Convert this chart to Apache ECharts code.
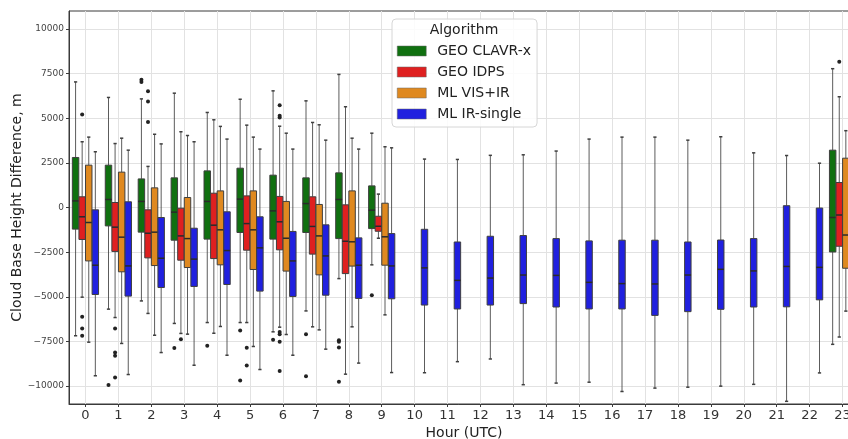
<!DOCTYPE html>
<html>
<head>
<meta charset="utf-8">
<script src="https://cdn.jsdelivr.net/npm/echarts@6/dist/echarts.min.js"></script>
<style>
    html, body { margin: 0; padding: 0; background: #fff; }
    #chart { width: 848px; height: 439px; }
</style>
</head>
<body>
<div id="chart"></div>
<script>
const hourLabels = ['0', '1', '2', '3', '4', '5', '6', '7', '8', '9', '10', '11',
    '12', '13', '14', '15', '16', '17', '18', '19', '20', '21', '22', '23'];
const yTicks = [-10000, -7500, -5000, -2500, 0, 2500, 5000, 7500, 10000];

const algorithms = ['GEO CLAVR-x', 'GEO IDPS', 'ML VIS+IR', 'ML IR-single'];
const colors = ['#107010', '#df2020', '#df8920', '#2020df'];

// [hour, lower whisker, q1, median, q3, upper whisker]
const clavrBoxes = [
    [0, -7180, -1210, 370, 2800, 7030],
    [1, -5690, -1030, 450, 2370, 6160],
    [2, -5230, -1380, 340, 1600, 6080],
    [3, -6490, -1830, -260, 1660, 6400],
    [4, -6440, -1770, 340, 2050, 5320],
    [5, -6440, -1400, 470, 2200, 6060],
    [6, -6960, -1770, -190, 1810, 6530],
    [7, -5790, -1400, 220, 1660, 5970],
    [8, -3980, -1740, 450, 1940, 7450],
    [9, -3210, -1180, -150, 1210, 4160],
    [23, -7660, -2490, -560, 3210, 7770]
];
const idpsBoxes = [
    [0, -5020, -1790, -520, 600, 3680],
    [1, -6160, -2460, -1100, 280, 3580],
    [2, -5930, -2820, -1440, -130, 2300],
    [3, -7050, -2950, -1590, -40, 4240],
    [4, -7040, -2860, -990, 800, 4910],
    [5, -6440, -2390, -900, 650, 4610],
    [6, -6700, -2370, -800, 620, 4550],
    [7, -6680, -2610, -1060, 600, 4760],
    [8, -9330, -3700, -1890, 150, 5640],
    [9, -1720, -1330, -1050, -490, 750],
    [23, -7250, -2170, -420, 1400, 6200]
];
const visBoxes = [
    [0, -7540, -2990, -840, 2370, 3940],
    [1, -7610, -3600, -1660, 1980, 3880],
    [2, -7150, -3250, -1380, 1100, 4100],
    [3, -7090, -3360, -1740, 560, 4030],
    [4, -6660, -3210, -1250, 930, 4540],
    [5, -7780, -3470, -1250, 930, 3940],
    [6, -7110, -3560, -1720, 340, 4160],
    [7, -6850, -3770, -1590, 170, 4630],
    [8, -6680, -3280, -1920, 930, 3880],
    [9, -6010, -3230, -1640, 240, 3400],
    [23, -5800, -3400, -1540, 2760, 4300]
];
const irBoxes = [
    [0, -9420, -4870, -3230, -130, 3120],
    [1, -9350, -4960, -3270, 320, 3210],
    [2, -8120, -4480, -2840, -560, 3560],
    [3, -8830, -4420, -2890, -1160, 3680],
    [4, -8270, -4310, -2410, -240, 3830],
    [5, -9070, -4680, -2260, -520, 3270],
    [6, -8270, -4980, -2990, -1340, 3270],
    [7, -7930, -4910, -2710, -970, 3770],
    [8, -8710, -5090, -3230, -1700, 3270],
    [9, -9240, -5110, -3270, -1460, 3340],
    [10, -9250, -5460, -3380, -1220, 2710],
    [11, -8630, -5680, -4080, -1930, 2690],
    [12, -8480, -5460, -3950, -1610, 2920],
    [13, -9920, -5380, -3780, -1570, 2950],
    [14, -9830, -5570, -3800, -1740, 3160],
    [15, -9780, -5680, -4190, -1870, 3830],
    [16, -10300, -5680, -4260, -1830, 3940],
    [17, -10110, -6040, -4280, -1830, 3940],
    [18, -10060, -5830, -3780, -1930, 3770],
    [19, -10000, -5700, -3460, -1820, 3960],
    [20, -9900, -5570, -3550, -1740, 3060],
    [21, -10850, -5560, -3300, 100, 2910],
    [22, -9260, -5170, -3350, -30, 2480]
];

// [hour, value]
const clavrOutliers = [
    [1, -9930], [2, 7150], [2, 7030], [3, -7860], [4, -7740], [5, -6880], [5, -9680],
    [6, -7400], [7, -7090], [7, -9440], [8, -7430], [8, -7520], [8, -7840], [8, -9760],
    [9, -4910]
];
const idpsOutliers = [
    [0, 5210], [0, -6120], [0, -6770], [0, -7180], [1, -6770], [1, -8120], [1, -8300],
    [1, -9520], [2, 6510], [2, 5930], [2, 4780], [3, -7370], [5, -7850], [5, -8840],
    [6, 5730], [6, 5130], [6, 5040], [6, -6970], [6, -7100], [6, -7510], [6, -9150],
    [23, 8160]
];

const boxSets = [clavrBoxes, idpsBoxes, visBoxes, irBoxes];
const outlierSets = [clavrOutliers, idpsOutliers, [], []];

const edgeColor = '#3f3f3f';

function slotCenter(api, hour, slot) {
    const band = api.size([1, 0])[0];
    const slotW = band * 0.8 / 4;
    return [api.coord([hour, 0])[0] + (slot - 1.5) * slotW, slotW];
}

function boxRenderer(slot) {
    return function (params, api) {
        const hour = api.value(0);
        const [cx, slotW] = slotCenter(api, hour, slot);
        const halfW = slotW * 0.98 / 2;
        const capHalf = halfW * 0.5;
        const y = i => api.coord([hour, api.value(i)])[1];
        const yMin = y(1), yQ1 = y(2), yMed = y(3), yQ3 = y(4), yMax = y(5);
        const wStyle = { stroke: edgeColor, lineWidth: 1, opacity: 0.85 };
        return {
            type: 'group',
            children: [
                { type: 'line', shape: { x1: cx, y1: yQ3, x2: cx, y2: yMax }, style: wStyle },
                { type: 'line', shape: { x1: cx, y1: yQ1, x2: cx, y2: yMin }, style: wStyle },
                { type: 'line', shape: { x1: cx - capHalf, y1: yMax, x2: cx + capHalf, y2: yMax }, style: { stroke: edgeColor, lineWidth: 1.5 } },
                { type: 'line', shape: { x1: cx - capHalf, y1: yMin, x2: cx + capHalf, y2: yMin }, style: { stroke: edgeColor, lineWidth: 1.5 } },
                {
                    type: 'rect',
                    shape: { x: cx - halfW, y: yQ3, width: halfW * 2, height: yQ1 - yQ3 },
                    style: { fill: colors[slot], stroke: edgeColor, lineWidth: 1 }
                },
                { type: 'line', shape: { x1: cx - halfW, y1: yMed, x2: cx + halfW, y2: yMed }, style: { stroke: '#2a2a2a', lineWidth: 1.5 } }
            ]
        };
    };
}

function outlierRenderer(slot) {
    return function (params, api) {
        const hour = api.value(0);
        const [cx] = slotCenter(api, hour, slot);
        const cy = api.coord([hour, api.value(1)])[1];
        return {
            type: 'circle',
            shape: { cx: cx, cy: cy, r: 2 },
            style: { fill: '#222' }
        };
    };
}

const series = [];
algorithms.forEach((name, i) => {
    series.push({
        name: name,
        type: 'custom',
        renderItem: boxRenderer(i),
        itemStyle: { color: colors[i] },
        encode: { x: 0, y: [1, 2, 3, 4, 5] },
        data: boxSets[i]
    });
});
outlierSets.forEach((set, i) => {
    if (set.length === 0) return;
    series.push({
        name: 'outliers-' + i,
        type: 'custom',
        renderItem: outlierRenderer(i),
        encode: { x: 0, y: 1 },
        data: set
    });
});

const chart = echarts.init(document.getElementById('chart'));
chart.setOption({
    animation: false,
    textStyle: { fontFamily: 'DejaVu Sans' },
    grid: {
        left: 69, right: -11, top: 11, bottom: 35,
        outerBoundsMode: 'none',
        containLabel: false,
        show: true, borderColor: '#3a3a3a', borderWidth: 1
    },
    legend: {
        data: algorithms,
        orient: 'vertical',
        left: 392, top: 19,
        padding: [25, 6, 6, 5],
        itemWidth: 29, itemHeight: 10, itemGap: 7,
        icon: 'rect',
        backgroundColor: 'rgba(255,255,255,0.85)',
        borderColor: '#d6d6d6', borderWidth: 1, borderRadius: 4,
        itemStyle: { borderColor: '#666', borderWidth: 0.5 },
        textStyle: { fontSize: 14, color: '#222', padding: [0, 0, 0, 6] }
    },
    graphic: [{
        type: 'text', x: 464, y: 30, z: 100,
        style: { text: 'Algorithm', fill: '#222', font: '14px "DejaVu Sans"', align: 'center', verticalAlign: 'middle' }
    }],
    xAxis: {
        type: 'category',
        data: hourLabels,
        name: 'Hour (UTC)',
        nameLocation: 'middle',
        nameGap: 22,
        nameMoveOverlap: false,
        nameTextStyle: { fontSize: 14, color: '#222' },
        axisLine: { show: true, onZero: false, lineStyle: { color: '#3a3a3a' } },
        axisTick: { show: true, alignWithLabel: true, length: 3, lineStyle: { color: '#3a3a3a' } },
        splitLine: { show: true, alignWithLabel: true, lineStyle: { color: '#e2e2e2' } },
        axisLabel: { fontSize: 13, color: '#333', margin: 5, interval: 0 }
    },
    yAxis: {
        type: 'value',
        min: -11000, max: 11000,
        name: 'Cloud Base Height Difference, m',
        nameLocation: 'middle',
        nameGap: 45,
        nameMoveOverlap: false,
        nameTextStyle: { fontSize: 14, color: '#222' },
        axisLine: { show: true, lineStyle: { color: '#3a3a3a' } },
        axisTick: { show: true, customValues: yTicks, length: 3, lineStyle: { color: '#3a3a3a' } },
        splitLine: { show: true, lineStyle: { color: '#e2e2e2' } },
        axisLabel: {
            customValues: yTicks, fontSize: 9, color: '#444', margin: 5,
            formatter: v => String(v).replace('-', '\u2212')
        }
    },
    series: series
});
</script>
</body>
</html>
